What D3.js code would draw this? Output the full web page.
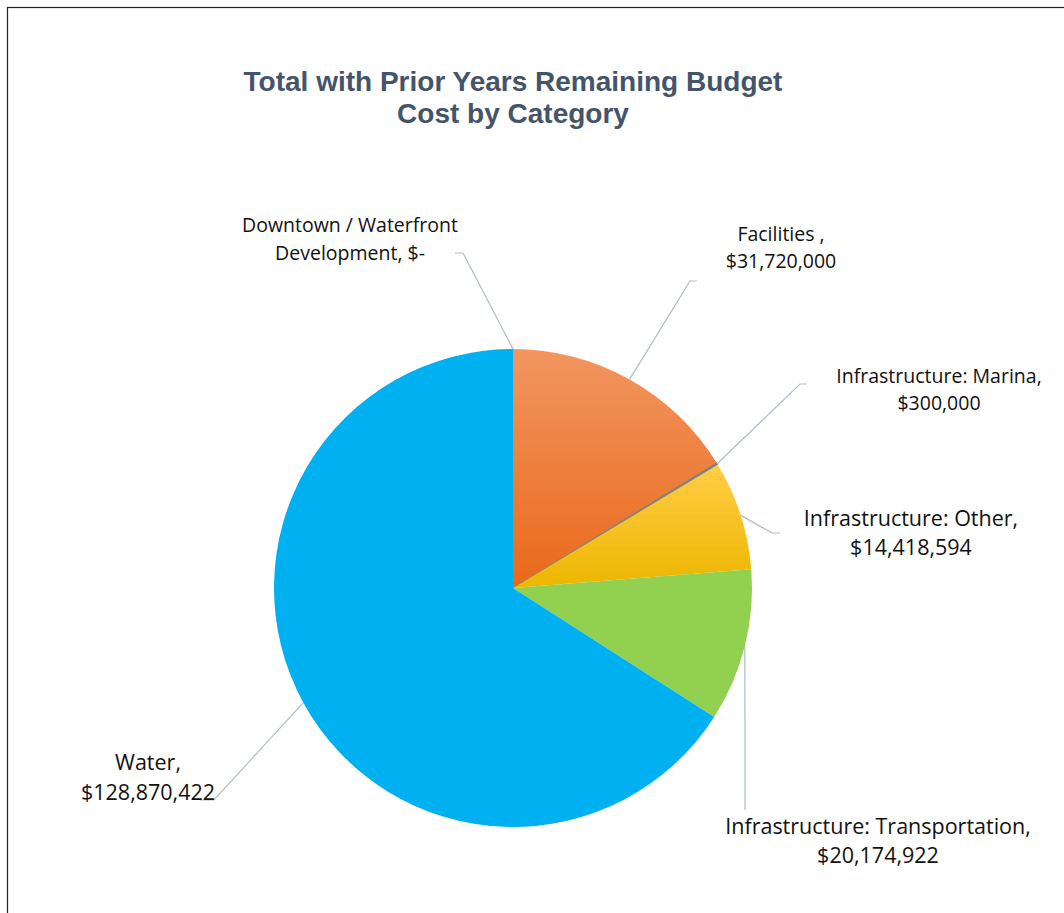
<!DOCTYPE html>
<html>
<head>
<meta charset="utf-8">
<script src="https://cdn.jsdelivr.net/npm/d3@7"></script>
<style>
  body { margin: 0; background: #fff; }
  svg { display: block; }
</style>
</head>
<body>
<svg id="chart" width="1064" height="913"></svg>
<script>
// data
var categories = ["Downtown / Waterfront Development", "Facilities", "Infrastructure: Marina",
                  "Infrastructure: Other", "Infrastructure: Transportation", "Water"];
var values = [0, 31720000, 300000, 14418594, 20174922, 128870422];
var labelLines = [
    ["Downtown / Waterfront", "Development,  $-"],
    ["Facilities ,", "$31,720,000"],
    ["Infrastructure: Marina,", "$300,000"],
    ["Infrastructure: Other,", "$14,418,594"],
    ["Infrastructure: Transportation,", "$20,174,922"],
    ["Water,", "$128,870,422"]
];
var titleLines = ["Total with Prior Years Remaining Budget", "Cost by Category"];

var width = 1064, height = 913;
var cx = 513, cy = 588, radius = 239;

var svg = d3.select("#chart");

// frame
svg.append("rect")
    .attr("x", 7.5).attr("y", 7.5)
    .attr("width", width).attr("height", height)
    .attr("fill", "none")
    .attr("stroke", "#222")
    .attr("stroke-width", 1.2);

// gradients for the shaded slices
var defs = svg.append("defs");
function vgrad(id, top, bottom) {
    var g = defs.append("linearGradient").attr("id", id)
        .attr("x1", 0).attr("y1", 0).attr("x2", 0).attr("y2", 1);
    g.append("stop").attr("offset", "0%").attr("stop-color", top);
    g.append("stop").attr("offset", "100%").attr("stop-color", bottom);
}
vgrad("gFac", "#F29660", "#E9691B");
vgrad("gOth", "#FFCD45", "#EDB600");

var fills = ["#7F7F7F", "url(#gFac)", "#7F7F7F", "url(#gOth)", "#92D050", "#00B0F0"];

// title
svg.append("text")
    .attr("x", cx).attr("y", 91)
    .attr("text-anchor", "middle")
    .style("font-family", "'Liberation Sans', Arial, sans-serif")
    .style("font-weight", "bold")
    .style("font-size", "28px")
    .style("fill", "#44546A")
    .selectAll("tspan")
    .data(titleLines)
    .enter().append("tspan")
    .attr("x", cx)
    .attr("dy", function (d, i) { return i == 0 ? 0 : 32; })
    .text(function (d) { return d; });

var pie = d3.pie().sort(null).value(function (d) { return d; });
var arcs = pie(values);
var arc = d3.arc().innerRadius(0).outerRadius(radius);

var g = svg.append("g").attr("transform", "translate(" + cx + "," + cy + ")");

g.selectAll("path.slice")
    .data(arcs)
    .enter()
    .append("path")
    .attr("class", "slice")
    .attr("d", arc)
    .attr("fill", function (d, i) { return fills[i]; })
    .attr("stroke", function (d, i) { return i == 2 ? "#7F7F7F" : "none"; })
    .attr("stroke-width", 1);

// label layout: elbow point (relative to centre), tail length, label centre, first baseline, size, line step
var layout = [
    {ex: -50, ey: -335, tail: -8, lx: -163, ly: -356, fs: 19.5, lh: 28},
    {ex: 177, ey: -307, tail: 7, lx: 268, ly: -347, fs: 19.5, lh: 27},
    {ex: 287, ey: -204, tail: 7, lx: 426, ly: -205, fs: 19.5, lh: 27},
    {ex: 259, ey: -55, tail: 8, lx: 398, ly: -62, fs: 21.5, lh: 29},
    {ex: 232, ey: 222, tail: 0, lx: 365, ly: 246, fs: 21.5, lh: 29},
    {ex: -299, ey: 212, tail: -14, lx: -365, ly: 182, fs: 21.5, lh: 30}
];

var lineColor = "#AFBCCB";

g.selectAll("path.leader")
    .data(arcs)
    .enter()
    .append("path")
    .attr("class", "leader")
    .attr("fill", "none")
    .attr("stroke", lineColor)
    .attr("stroke-width", 1.2)
    .attr("d", function (d, i) {
        var a = (d.startAngle + d.endAngle) / 2;
        var sx = radius * Math.sin(a), sy = -radius * Math.cos(a);
        var L = layout[i];
        return "M" + sx + "," + sy + "L" + L.ex + "," + L.ey + "L" + (L.ex + L.tail) + "," + L.ey;
    });

g.selectAll("text.label")
    .data(arcs)
    .enter()
    .append("text")
    .attr("class", "label")
    .attr("text-anchor", "middle")
    .style("font-family", "'Open Sans', Lato, sans-serif")
    .style("font-size", function (d, i) { return layout[i].fs + "px"; })
    .style("fill", "#111")
    .each(function (d, i) {
        var L = layout[i];
        d3.select(this).selectAll("tspan")
            .data(labelLines[i])
            .enter().append("tspan")
            .attr("x", L.lx)
            .attr("y", function (t, k) { return L.ly + k * L.lh; })
            .text(function (t) { return t; });
    });
</script>
</body>
</html>
